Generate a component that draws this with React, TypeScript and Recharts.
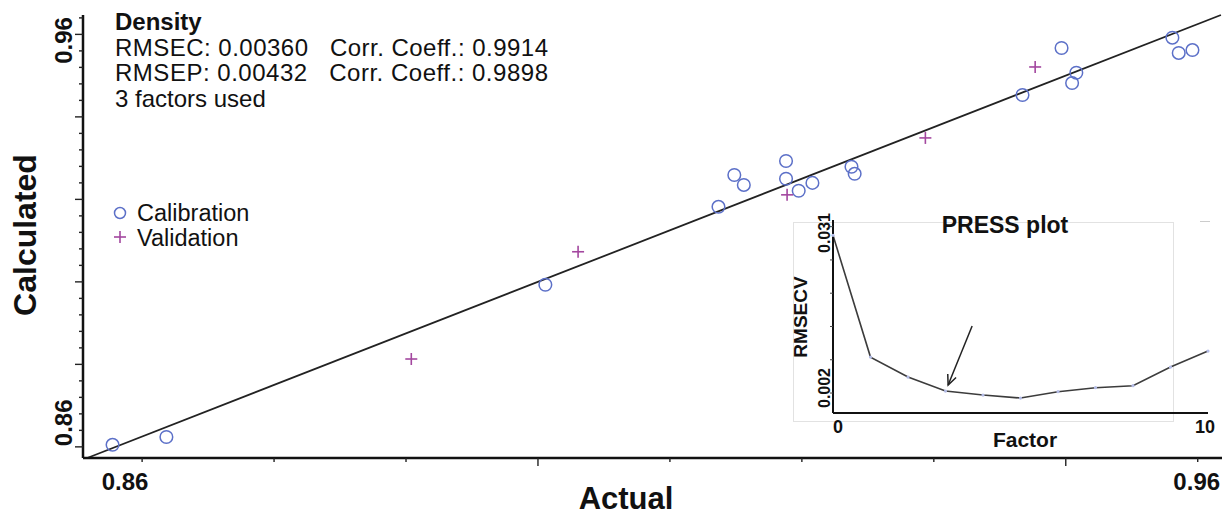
import React from 'react';
import { ScatterChart, Scatter, XAxis, YAxis, ReferenceLine, LineChart, Line } from 'recharts';

const FONT = '"Liberation Sans", Arial, Helvetica, sans-serif';

// ---- Main plot data (Actual vs Calculated density) ----
const calibrationActual = [0.8597, 0.8648, 0.9007, 0.9171, 0.9186, 0.9195, 0.9235, 0.9235, 0.9247, 0.9260, 0.9297, 0.9300, 0.9459, 0.9496, 0.9506, 0.9510, 0.9601, 0.9607, 0.9620];
const calibrationCalculated = [0.8605, 0.8624, 0.8993, 0.9182, 0.9259, 0.9235, 0.9293, 0.9250, 0.9221, 0.9240, 0.9279, 0.9262, 0.9453, 0.9567, 0.9482, 0.9507, 0.9592, 0.9555, 0.9562];
const validationActual = [0.8880, 0.9038, 0.9236, 0.9367, 0.9471];
const validationCalculated = [0.8813, 0.9073, 0.9211, 0.9349, 0.9521];

const X_DOMAIN = [0.8569, 0.9648];
const Y_DOMAIN = [0.8573, 0.9647];
const LINE_ENDS = [0.8573, 0.9647];

const xTicks = [0.8625, 0.875, 0.8875, 0.9, 0.9125, 0.925, 0.9375, 0.95, 0.9625];
const xMajorTicks = [0.9, 0.95];
const xLabelValues = [0.8625, 0.9625];
const xLabelTexts = ['0.86', '0.96'];

const yTicks = [0.86, 0.864, 0.868, 0.872, 0.876, 0.88, 0.884, 0.888, 0.892, 0.896, 0.9, 0.904, 0.908, 0.912, 0.916, 0.92, 0.924, 0.928, 0.932, 0.936, 0.94, 0.944, 0.948, 0.952, 0.956, 0.96, 0.964];
const yMajorTicks = [0.86, 0.88, 0.9, 0.92, 0.94, 0.96];
const yLabelValues = [0.86, 0.96];
const yLabelTexts = ['0.86', '0.96'];

const infoLines = ['RMSEC: 0.00360   Corr. Coeff.: 0.9914', 'RMSEP: 0.00432   Corr. Coeff.: 0.9898', '3 factors used'];

// ---- PRESS inset data ----
const pressFactors = [0, 1, 2, 3, 4, 5, 6, 7, 8, 9, 10];
const pressRmsecv = [0.0287, 0.0104, 0.0074, 0.0053, 0.0047, 0.00425, 0.0052, 0.0058, 0.0061, 0.0089, 0.0113];
const pressYTicks = [0.002, 0.005, 0.01, 0.015, 0.02, 0.025, 0.03, 0.031];
const pressYLabelValues = [0.002, 0.031];
const pressYLabelTexts = ['0.002', '0.031'];
const pressXTicks = [0, 10];
const arrowTail = { factor: 3.71, value: 0.01507 };
const arrowTip = { factor: 3.07, value: 0.0062 };

const calibrationData = calibrationActual.map((a, i) => ({ actual: a, calculated: calibrationCalculated[i] }));
const validationData = validationActual.map((a, i) => ({ actual: a, calculated: validationCalculated[i] }));
const pressData = pressFactors.map((f, i) => ({ factor: f, rmsecv: pressRmsecv[i] }));

const CAL_COLOR = '#5c70c8';
const VAL_COLOR = '#a3479f';

const near = (a: number, b: number) => Math.abs(a - b) < 1e-9;

const renderCircle = (props: any) => (
  <circle cx={props.cx} cy={props.cy} r={6.3} fill="none" stroke={CAL_COLOR} strokeWidth={1.5} />
);
const renderPlus = (props: any) => (
  <g stroke={VAL_COLOR} strokeWidth={1.6}>
    <line x1={props.cx - 6} x2={props.cx + 6} y1={props.cy} y2={props.cy} />
    <line x1={props.cx} x2={props.cx} y1={props.cy - 6} y2={props.cy + 6} />
  </g>
);

const X_LABEL_SHIFT = [-17, -1];
const Y_LABEL_SHIFT = [-24, 6];

const renderXTick = (props: any) => {
  const { x, y, payload } = props;
  const v = payload.value;
  const major = xMajorTicks.some((m) => near(m, v));
  const li = xLabelValues.findIndex((m) => near(m, v));
  return (
    <g>
      <line x1={x} x2={x} y1={y} y2={y + (major ? 8 : 4)} stroke="#222" strokeWidth={1.4} />
      {li >= 0 && (
        <text x={x + X_LABEL_SHIFT[li]} y={y + 32} textAnchor="middle" fontFamily={FONT} fontWeight="bold" fontSize={24} fill="#111">
          {xLabelTexts[li]}
        </text>
      )}
    </g>
  );
};

const renderYTick = (props: any) => {
  const { x, y, payload } = props;
  const v = payload.value;
  const major = yMajorTicks.some((m) => near(m, v));
  const li = yLabelValues.findIndex((m) => near(m, v));
  return (
    <g>
      <line x1={x} x2={x - (major ? 8 : 4)} y1={y} y2={y} stroke="#222" strokeWidth={1.4} />
      {li >= 0 && (
        <text transform={`translate(${x - 11}, ${y + Y_LABEL_SHIFT[li]}) rotate(-90)`} textAnchor="middle" fontFamily={FONT} fontWeight="bold" fontSize={24} fill="#111">
          {yLabelTexts[li]}
        </text>
      )}
    </g>
  );
};

const P_X_SHIFT = [5, -3];
const renderPressXTick = (props: any) => {
  const { x, y, payload } = props;
  const i = pressXTicks.indexOf(payload.value);
  return (
    <text x={x + (P_X_SHIFT[i] || 0)} y={y + 20} textAnchor="middle" fontFamily={FONT} fontWeight="bold" fontSize={18} fill="#111">
      {String(payload.value)}
    </text>
  );
};

const P_Y_SHIFT = [-25, 13];
const renderPressYTick = (props: any) => {
  const { x, y, payload } = props;
  const v = payload.value;
  const li = pressYLabelValues.findIndex((m) => near(m, v));
  if (li >= 0) {
    return (
      <text transform={`translate(${x - 3}, ${y + P_Y_SHIFT[li]}) rotate(-90)`} textAnchor="middle" fontFamily={FONT} fontWeight="bold" fontSize={16} fill="#111">
        {pressYLabelTexts[li]}
      </text>
    );
  }
  return <line x1={x} x2={x - 3} y1={y} y2={y} stroke="#444" strokeWidth={1} />;
};

const renderArrow = (props: any) => {
  const { x1, y1, x2, y2 } = props;
  const ang = Math.atan2(y2 - y1, x2 - x1);
  const len = 11;
  const spread = 0.42;
  const ax = x2 - len * Math.cos(ang - spread);
  const ay = y2 - len * Math.sin(ang - spread);
  const bx = x2 - len * Math.cos(ang + spread);
  const by = y2 - len * Math.sin(ang + spread);
  return (
    <g stroke="#222" strokeWidth={1.5} fill="none">
      <line x1={x1} y1={y1} x2={x2} y2={y2} />
      <polyline points={`${ax},${ay} ${x2},${y2} ${bx},${by}`} />
    </g>
  );
};

export default function App() {
  return (
    <div style={{ position: 'absolute', left: 0, top: 0, width: 1227, height: 518, background: '#fff', overflow: 'hidden' }}>
      <ScatterChart width={1227} height={518} margin={{ top: 15, right: 5, left: 0, bottom: 0 }}>
        <XAxis
          type="number"
          dataKey="actual"
          domain={X_DOMAIN}
          ticks={xTicks}
          interval={0}
          tickSize={0}
          tickMargin={0}
          tickLine={false}
          tick={renderXTick}
          axisLine={{ stroke: '#111', strokeWidth: 2.5 }}
          height={60}
          allowDataOverflow
        />
        <YAxis
          type="number"
          dataKey="calculated"
          domain={Y_DOMAIN}
          ticks={yTicks}
          interval={0}
          tickSize={0}
          tickMargin={0}
          tickLine={false}
          tick={renderYTick}
          axisLine={{ stroke: '#111', strokeWidth: 2.5 }}
          width={83}
          allowDataOverflow
        />
        <ReferenceLine
          segment={[{ x: LINE_ENDS[0], y: LINE_ENDS[0] }, { x: LINE_ENDS[1], y: LINE_ENDS[1] }]}
          stroke="#222"
          strokeWidth={1.8}
        />
        <Scatter name="Calibration" data={calibrationData} shape={renderCircle} isAnimationActive={false} />
        <Scatter name="Validation" data={validationData} shape={renderPlus} isAnimationActive={false} />
      </ScatterChart>

      <svg width={1227} height={518} style={{ position: 'absolute', left: 0, top: 0, pointerEvents: 'none' }}>
        <g fontFamily={FONT} fill="#111">
          <text x={115} y={30} fontSize={24} fontWeight="bold">Density</text>
          {infoLines.map((t, i) => (
            <text key={i} x={115} y={55.5 + i * 25.5} fontSize={24} textLength={i < 2 ? 433 : undefined} style={{ whiteSpace: 'pre' }}>{t}</text>
          ))}
          <circle cx={120} cy={213} r={5.5} fill="none" stroke={CAL_COLOR} strokeWidth={1.5} />
          <text x={137} y={221} fontSize={23.5}>Calibration</text>
          <g stroke={VAL_COLOR} strokeWidth={1.6}>
            <line x1={114} x2={126} y1={237} y2={237} />
            <line x1={120} x2={120} y1={231} y2={243} />
          </g>
          <text x={137} y={246} fontSize={23.5}>Validation</text>
          <text x={626} y={509} fontSize={31} fontWeight="bold" textAnchor="middle">Actual</text>
          <text transform="translate(36, 235) rotate(-90)" fontSize={32} fontWeight="bold" textAnchor="middle">Calculated</text>
        </g>
      </svg>

      <div style={{ position: 'absolute', left: 793, top: 222, width: 379, height: 198, border: '1px solid #e2e2e2', background: '#fff' }} />
      <div style={{ position: 'absolute', left: 1200, top: 221, width: 10, height: 1, background: '#ccc' }} />

      <div style={{ position: 'absolute', left: 780, top: 200 }}>
        <LineChart width={440} height={260} data={pressData} margin={{ top: 20, right: 12, left: 0, bottom: 0 }}>
          <XAxis
            type="number"
            dataKey="factor"
            domain={[0, 10]}
            ticks={pressXTicks}
            interval={0}
            tickSize={0}
            tickMargin={0}
            tickLine={false}
            tick={renderPressXTick}
            axisLine={{ stroke: '#111', strokeWidth: 2 }}
            height={47}
          />
          <YAxis
            type="number"
            domain={[0.002, 0.031]}
            ticks={pressYTicks}
            interval={0}
            tickSize={0}
            tickMargin={0}
            tickLine={false}
            tick={renderPressYTick}
            axisLine={{ stroke: '#111', strokeWidth: 2 }}
            width={53}
            allowDataOverflow
          />
          <Line
            type="linear"
            dataKey="rmsecv"
            stroke="#3c3c3c"
            strokeWidth={1.6}
            dot={{ r: 1.6, fill: '#b4bce6', stroke: 'none' }}
            isAnimationActive={false}
          />
          <ReferenceLine
            segment={[{ x: arrowTail.factor, y: arrowTail.value }, { x: arrowTip.factor, y: arrowTip.value }]}
            shape={renderArrow}
          />
        </LineChart>
        <svg width={440} height={260} style={{ position: 'absolute', left: 0, top: 0, pointerEvents: 'none' }}>
          <g fontFamily={FONT} fill="#111" fontWeight="bold">
            <text x={225} y={33} fontSize={23} textAnchor="middle">PRESS plot</text>
            <text x={245} y={247} fontSize={21} textAnchor="middle">Factor</text>
            <text transform="translate(27, 117) rotate(-90)" fontSize={19} textAnchor="middle">RMSECV</text>
          </g>
        </svg>
      </div>
    </div>
  );
}
